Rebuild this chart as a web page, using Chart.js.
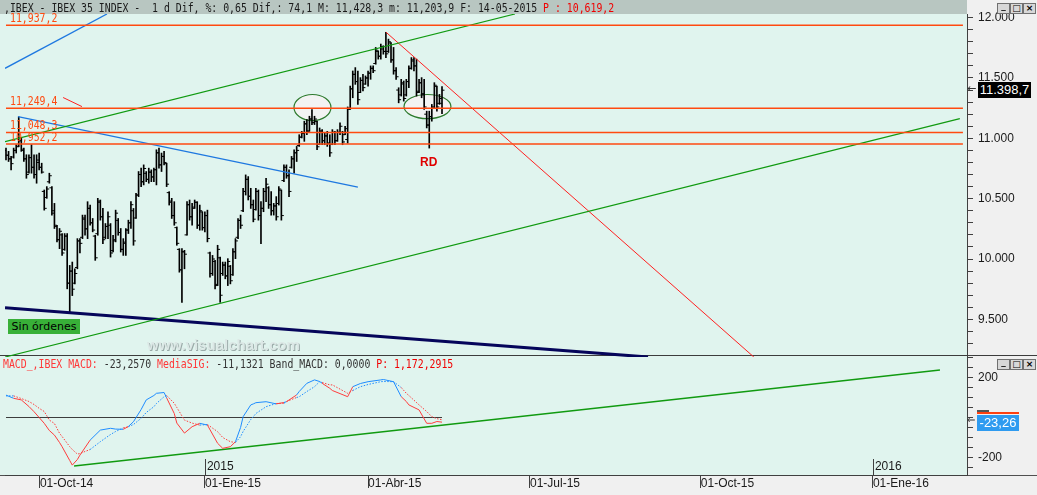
<!DOCTYPE html>
<html><head><meta charset="utf-8">
<script src="https://cdn.jsdelivr.net/npm/chart.js@4.4.1/dist/chart.umd.min.js"></script>
<style>
html,body{margin:0;padding:0;background:#f0f0f0;}
#wrap{position:relative;width:1037px;height:495px;overflow:hidden;background:#f0f0f0;}
.abs{position:absolute;}
.mono{position:absolute;font-family:'DejaVu Sans Mono',monospace;font-size:12px;line-height:12px;white-space:pre;transform:scaleX(0.82);transform-origin:0 0;z-index:5;}
.btn{position:absolute;width:11px;height:9px;background:#d8d8d8;border:1px solid #707070;font:bold 9px 'DejaVu Sans',sans-serif;line-height:9px;text-align:center;color:#000;z-index:5;}
</style></head><body>
<div id="wrap">
  <div class="abs" style="left:0;top:0;width:967px;height:14px;background:#b8c6c1"></div>
  <div class="abs" style="left:0;top:14px;width:967px;height:341px;background:#e0f4ee"></div>
  <div class="abs" style="left:0;top:355px;width:1037px;height:1px;background:#3c3c3c"></div>
  <div class="abs" style="left:0;top:356px;width:967px;height:119px;background:#e0f4ee"></div>
  <div class="abs" style="left:0;top:475px;width:1037px;height:1px;background:#505050"></div>
  <div class="abs" style="left:0;top:0;width:1037px;height:362px;z-index:2"><canvas id="main"></canvas></div>
  <div class="abs" style="left:0;top:356px;width:1037px;height:139px;z-index:3"><canvas id="macd"></canvas></div>
</div>
<script>
// ---------- DATA ----------
const highs = [10919,10892,10850,10919,10947,11178,11003,10919,10864,10864,
10947,10864,10864,10878,10794,10572,10600,10711,10600,10461,
10280,10253,10211,10211,10211,9947,9975,9919,10169,10169,
10364,10364,10475,10447,10336,10197,10503,10489,10419,10294,
10392,10294,10197,10405,10336,10253,10169,10253,10322,10475,
10419,10544,10725,10753,10780,10725,10753,10739,10753,10905,
10919,10878,10892,10794,10558,10503,10475,10266,10086,10086,
10072,10475,10489,10461,10489,10475,10447,10392,10392,10405,
10058,10030,9989,10114,10016,9975,9975,10003,9947,10086,
10169,10336,10364,10586,10697,10683,10586,10489,10586,10572,
10475,10586,10669,10600,10558,10461,10517,10600,10572,10780,
10780,10739,10850,10905,10933,11030,11058,11142,11155,11183,
11239,11183,11142,11086,11072,11044,11058,11030,11072,11058,
11072,11128,11058,11100,11260,11433,11558,11586,11558,11503,
11530,11517,11558,11600,11600,11753,11725,11781,11767,11878,
11822,11794,11753,11586,11419,11489,11475,11489,11600,11669,
11669,11656,11489,11503,11489,11225,11225,11281,11461,11433,
11364,11428.3];
const lows = [10822,10808,10739,10836,10878,10930,10892,10808,10669,10711,
10711,10669,10628,10739,10711,10405,10503,10628,10364,10253,
10142,10086,10030,10072,9753,9558,9697,9794,9919,10050,
10169,10197,10169,10280,10225,9989,10197,10322,10128,10169,
10169,10016,10058,10142,10197,10058,10030,10030,10211,10253,
10114,10336,10517,10600,10614,10641,10628,10641,10641,10614,
10753,10725,10780,10600,10447,10336,10280,10114,9891,9641,
9919,10197,10322,10280,10419,10253,10239,10239,10225,10142,
9850,9864,9753,9780,9641,9864,9836,9780,9794,9864,
10003,10169,10253,10392,10530,10489,10419,10308,10405,10322,
10128,10392,10475,10419,10364,10364,10322,10447,10322,10641,
10669,10517,10753,10711,10808,10933,11003,10975,11030,11058,
11114,11114,10905,10947,10947,10947,10933,10850,10947,10947,
10975,11030,10947,11030,10960,11239,11336,11447,11281,11378,
11392,11447,11433,11489,11544,11614,11656,11656,11697,11669,
11711,11628,11531,11489,11294,11350,11308,11350,11419,11572,
11558,11350,11378,11336,11239,11086,10919,11142,11253,11225,
11281,11203.9];
const opens = [10900,10860,10830,10845,10900,10935,10980,10900,10830,10720,
10840,10760,10700,10800,10760,10560,10510,10640,10590,10400,
10270,10160,10200,10080,10190,9800,9900,9800,9930,10150,
10180,10330,10250,10420,10300,10190,10210,10470,10350,10180,
10270,10280,10070,10160,10320,10220,10080,10130,10240,10300,
10400,10340,10530,10700,10640,10710,10660,10720,10680,10740,
10880,10780,10850,10790,10550,10480,10360,10260,10080,9910,
10060,10200,10450,10350,10430,10470,10280,10390,10260,10360,
10050,9880,9980,9790,10010,9880,9950,9860,9940,9870,
10060,10180,10320,10400,10560,10660,10520,10450,10410,10560,
10360,10420,10560,10590,10450,10400,10440,10460,10570,10650,
10760,10690,10760,10830,10880,10940,11010,11040,11120,11060,
11160,11130,11140,10950,11060,10980,11020,10960,10950,11050,
10980,11050,11050,11030,10990,11250,11410,11530,11470,11380,
11480,11450,11500,11540,11580,11620,11720,11680,11740,11720,
11720,11790,11650,11560,11400,11360,11450,11360,11470,11580,
11640,11600,11390,11460,11370,11200,11110,11180,11260,11430,
11290,11290];
const closes = [10860,10830,10790,10900,10930,10980,10910,10830,10700,10840,
10760,10700,10820,10760,10720,10420,10580,10690,10380,10280,
10160,10230,10050,10190,9800,9900,9750,9880,10150,10130,
10340,10250,10420,10300,10240,10010,10480,10350,10160,10270,
10350,10050,10150,10380,10220,10080,10140,10240,10300,10450,
10150,10530,10700,10640,10750,10660,10720,10680,10740,10880,
10780,10850,10800,10620,10470,10360,10300,10130,9910,10060,
10040,10450,10350,10420,10470,10280,10400,10260,10360,10170,
9880,10000,9780,10080,9700,9950,9860,9980,9820,10060,
10150,10320,10280,10560,10660,10520,10450,10330,10560,10360,
10420,10560,10620,10450,10400,10440,10350,10580,10360,10760,
10690,10560,10830,10880,10900,11010,11040,11120,11060,11160,
11130,11160,10930,11060,10980,11020,10960,10880,11050,10980,
11050,11100,10970,11080,11240,11410,11530,11470,11320,11480,
11420,11500,11540,11580,11560,11730,11680,11760,11720,11700,
11800,11650,11560,11510,11320,11460,11330,11470,11580,11650,
11600,11380,11460,11360,11260,11110,11180,11250,11440,11260,
11330,11398.7];

// MACD readings (bar index where read, MACD, signal)
const macdIdx = [0,3,6,9,11,13,15,17,19,21,22,25,26,28,29,33,37,41,43,46,48,50,53,55,58,59,62,63,66,67,70,73,76,79,83,85,88,90,92,93,96,97,98,102,106,109,110,114,115,118,121,123,124,127,128,134,136,139,142,147,148,152,155,157,158,162,165,167,169,171];
const macdVals = [112,96,88,55,29,0,-29,-65,-88,-125,-146,-215,-238,-210,-188,-113,-63,-54,-58,-59,-45,-21,40,88,110,121,125,98,20,-28,-78,-46,-29,-38,-129,-154,-146,-121,-50,4,63,68,74,79,68,75,79,113,130,171,188,180,171,146,135,104,154,170,179,188,190,179,104,80,63,38,-29,-29,-20,-23.26];
const sigVals = [108,108,95,80,65,46,30,-13,-30,-79,-95,-146,-160,-183,-180,-160,-121,-85,-70,-52,-46,-35,-4,25,54,70,104,110,71,50,-13,-28,-38,-35,-71,-100,-121,-125,-96,-70,-10,4,20,54,70,71,80,100,104,130,154,179,175,163,163,121,135,154,165,179,180,179,150,121,110,63,30,4,-6,-11.13];

// horizontal support / resistance levels
const levels = [11937.2, 11249.4, 11048.3, 10952.2];
const levelLabels = ['11,937,2', '11,249,4', '11,048,3', '10,952,2'];

// trendlines [start, end] in (bar index, price)
const greenUpper = [{x:-0.39, y:10972}, {x:199.6, y:12030}];
const greenLower = [{x:-0.39, y:9188}, {x:374.1, y:11163}];
const blueTop    = [{x:-0.39, y:11580}, {x:39.6, y:12030}];
const blueDown   = [{x:4.7, y:11179}, {x:138.0, y:10596}];
const navyLine   = [{x:-0.39, y:9597}, {x:251.8, y:9188}];
const redDown    = [{x:149, y:11880}, {x:293.3, y:9188}];
const redShort   = [{x:22.4, y:11338}, {x:29.8, y:11263}];
// ellipses (center index, center price, half width in bars, half height in points)
const ellipses = [[120.2, 11255, 7.25, 108], [165.3, 11263, 9.2, 100]];

// MACD panel lines
const macdZero  = [{x:0, y:0}, {x:171, y:0}];
const macdTrend = [{x:26.7, y:-242.5}, {x:366.3, y:237.5}];

// date axis
const dateIdx = [13.3, 78, 142, 205.5, 272.5, 340];
const dateLabels = ['01-Oct-14', '01-Ene-15', '01-Abr-15', '01-Jul-15', '01-Oct-15', '01-Ene-16'];
const yearIdx = [78, 340];
const yearLabels = ['2015', '2016'];

const lastClose = 11398.7;
const lastMacd = -23.26;

// ---------- CHARTS ----------
const X_MIN = -0.39, X_MAX = 376.9;
const AXIS_FONT = {family:"'Liberation Sans',sans-serif", size:12, lineHeight:1.2};
const BLUE = '#1e8cff', RED = '#ff3c3c';

const hlData = highs.map((h,i)=>({x:i, y:[lows[i], h]}));
const openData = opens.map((o,i)=>({x:i-0.45, y:o}));
const closeData = closes.map((c,i)=>({x:i+0.45, y:c}));

function lineDs(data, color, width, extra) {
  return Object.assign({type:'line', data, borderColor:color, borderWidth:width, pointRadius:0, fill:false, order:0, tension:0}, extra||{});
}
function noPadY(s){ s.width = 70; s.paddingTop = 0; s.paddingBottom = 0; }

const ellipsePlugin = {
  id:'ellipses',
  beforeDatasetsDraw(chart){
    const {ctx, scales:{x,y}} = chart;
    ctx.save();
    ellipses.forEach(([cx,cy,rx,ry])=>{
      const px = x.getPixelForValue(cx), py = y.getPixelForValue(cy);
      const rpx = x.getPixelForValue(cx+rx)-px, rpy = py - y.getPixelForValue(cy+ry);
      ctx.beginPath();
      ctx.ellipse(px, py, rpx, rpy, 0, 0, Math.PI*2);
      ctx.fillStyle = '#f3f3f3';
      ctx.fill();
      ctx.lineWidth = 1.2;
      ctx.strokeStyle = '#2d7a2d';
      ctx.stroke();
    });
    ctx.restore();
  }
};

const fmtThousands = v => { const s = String(Math.round(v)); return s.length>3 ? s.slice(0,s.length-3)+'.'+s.slice(-3) : s; };

const mainChart = new Chart(document.getElementById('main'), {
  type:'bar',
  data:{datasets:[
    {type:'bar', data:hlData, backgroundColor:'#000', borderWidth:0, barThickness:1, order:5},
    {type:'scatter', data:openData, pointStyle:'line', radius:1.3, borderColor:'#000', borderWidth:1, order:5},
    {type:'scatter', data:closeData, pointStyle:'line', radius:1.3, borderColor:'#000', borderWidth:1, order:5},
    ...levels.map(l => lineDs([{x:0,y:l},{x:375.3,y:l}], '#ff4a10', 1.5)),
    lineDs(greenUpper, '#109a10', 1.2),
    lineDs(greenLower, '#109a10', 1.2),
    lineDs(blueTop, '#1e78e0', 1.3),
    lineDs(blueDown, '#1e78e0', 1.3),
    lineDs(navyLine, '#05055a', 3),
    lineDs(redDown, '#ff2020', 1),
    lineDs(redShort, '#ff2020', 1),
  ]},
  options:{
    responsive:true, maintainAspectRatio:false, animation:false,
    layout:{padding:{left:5, top:14, right:0, bottom:0}},
    plugins:{legend:{display:false}, tooltip:{enabled:false}},
    scales:{
      x:{type:'linear', min:X_MIN, max:X_MAX, display:false, offset:false},
      y:{type:'linear', position:'right', min:9188.3, max:12030,
        afterFit:noPadY,
        grid:{drawOnChartArea:false, drawTicks:true, tickLength:6, color:'#404040'},
        border:{display:true, color:'#404040', width:1},
        ticks:{stepSize:100, includeBounds:false, autoSkip:false, padding:5, color:'#1a1a1a', font:AXIS_FONT,
          callback:v => (Math.round(v)%500===0 ? fmtThousands(v) : '')}
      }
    }
  },
  plugins:[ellipsePlugin]
});

const segColor = ctx => (macdVals[ctx.p0DataIndex] >= sigVals[ctx.p0DataIndex] ? BLUE : RED);
const macdData = macdIdx.map((ix,k)=>({x:ix, y:macdVals[k]}));
const sigData = macdIdx.map((ix,k)=>({x:ix, y:sigVals[k]}));

const macdChart = new Chart(document.getElementById('macd'), {
  type:'line',
  data:{datasets:[
    lineDs(macdData, BLUE, 1, {segment:{borderColor:segColor}}),
    lineDs(sigData, RED, 1, {borderDash:[1.5,1.5], segment:{borderColor:segColor}}),
    lineDs(macdZero, '#3c3c3c', 1.2),
    lineDs(macdTrend, '#109a10', 1.3),
  ]},
  options:{
    responsive:true, maintainAspectRatio:false, animation:false,
    layout:{padding:{left:5, top:1, right:0, bottom:0}},
    plugins:{legend:{display:false}, tooltip:{enabled:false}},
    scales:{
      x:{type:'linear', min:X_MIN, max:X_MAX, offset:false,
        afterFit(s){ s.height = 20; s.paddingLeft = 0; s.paddingRight = 0; },
        afterBuildTicks(s){ s.ticks = dateIdx.map(v=>({value:v})); },
        grid:{drawOnChartArea:false, drawTicks:true, tickLength:13, color:'#404040'},
        border:{display:true, color:'#404040', width:1},
        ticks:{autoSkip:false, maxRotation:0, minRotation:0, align:'start', padding:-12, color:'#1a1a1a', font:AXIS_FONT,
          callback:(v,i)=>dateLabels[i]}
      },
      y:{type:'linear', position:'right', min:-287.5, max:302.5,
        afterFit:noPadY,
        grid:{drawOnChartArea:false, drawTicks:true, tickLength:6, color:'#404040'},
        border:{display:true, color:'#404040', width:1},
        ticks:{stepSize:50, includeBounds:false, autoSkip:false, padding:5, color:'#1a1a1a', font:AXIS_FONT,
          callback:v => (v===200||v===-200 ? String(v) : '')}
      }
    }
  }
});

// ---------- TEXT OVERLAYS ----------
const wrap = document.getElementById('wrap');
function addEl(html, css, cls){
  const d = document.createElement('div');
  if (cls) d.className = cls;
  d.innerHTML = html;
  d.style.cssText += css;
  wrap.appendChild(d);
  return d;
}
const yA = mainChart.scales.y, xA = mainChart.scales.x;
const yB = macdChart.scales.y, xB = macdChart.scales.x;

addEl(',IBEX - IBEX 35 INDEX -  1 d Dif, %: 0,65 Dif,: 74,1 M: 11,428,3 m: 11,203,9 F: 14-05-2015 <span style="color:#f00000">P : 10,619,2</span>',
      'left:4px;top:2px;color:#1a1a1a;', 'mono');
addEl('<span style="color:#ff3838">MACD_,IBEX MACD: </span>-23,2570 <span style="color:#ff3838">MediaSIG: </span>-11,1321 Band_MACD: 0,0000 <span style="color:#f00000">P: 1,172,2915</span>',
      'left:3px;top:358px;color:#333;', 'mono');

levels.forEach((lv,k)=>{
  addEl(levelLabels[k], `left:10px;top:${yA.getPixelForValue(lv)-13}px;color:#ff4a10;`, 'mono');
});

addEl('RD', `left:${xA.getPixelForValue(165.5)-8}px;top:${yA.getPixelForValue(10919)+7}px;color:#e00000;font:bold 12px 'Liberation Sans',sans-serif;z-index:5;`, 'abs');

addEl('Sin órdenes', "left:8px;top:319px;width:72px;height:15px;background:#38b038;color:#000;font:11px 'DejaVu Sans',sans-serif;line-height:15px;text-align:center;z-index:5;", 'abs');

addEl('www.visualchart.com', "left:147px;top:336px;color:#dce8e6;font:bold 15px 'Liberation Sans',sans-serif;text-shadow:1px 1px 0 #9aaaa8;z-index:3;", 'abs');

// last price box on main axis
const pyA = yA.getPixelForValue(lastClose);
addEl('&larr;', `left:967px;top:${pyA-8}px;font:11px 'DejaVu Sans',sans-serif;color:#333;z-index:5;`, 'abs');
addEl('11.398,7', `left:978px;top:${pyA-8}px;width:53px;height:16px;background:#000;color:#fff;font:13px 'Liberation Sans',sans-serif;line-height:16px;text-align:center;z-index:5;`, 'abs');

// MACD value box
const pyB = 356 + yB.getPixelForValue(lastMacd);
addEl('', `left:977px;top:${pyB-12}px;width:12px;height:2px;background:#555;z-index:5;`, 'abs');
addEl('', `left:977px;top:${pyB-10}px;width:42px;height:2px;background:#ff4010;z-index:5;`, 'abs');
addEl('-23,26', `left:977px;top:${pyB-7}px;width:42px;height:16px;background:#2f9bf0;color:#fff;font:13px 'Liberation Sans',sans-serif;line-height:16px;text-align:center;z-index:5;`, 'abs');
addEl('&#8656;', `left:967px;top:${pyB-8}px;font:10px 'DejaVu Sans',sans-serif;color:#333;z-index:5;`, 'abs');

// year markers inside MACD panel
yearIdx.forEach((ix,k)=>{
  const px = xB.getPixelForValue(ix);
  addEl(yearLabels[k], `left:${px}px;top:459px;height:16px;border-left:1px solid #404040;padding-left:1px;color:#1a1a1a;font:12px 'Liberation Sans',sans-serif;line-height:14px;z-index:5;`, 'abs');
});

// window buttons
[[3],[359]].forEach(([t])=>{
  addEl('_', `left:997px;top:${t}px;line-height:5px;`, 'btn');
  addEl('&#9633;', `left:1010px;top:${t}px;`, 'btn');
  addEl('&times;', `left:1023px;top:${t}px;`, 'btn');
});
</script>
</body></html>
